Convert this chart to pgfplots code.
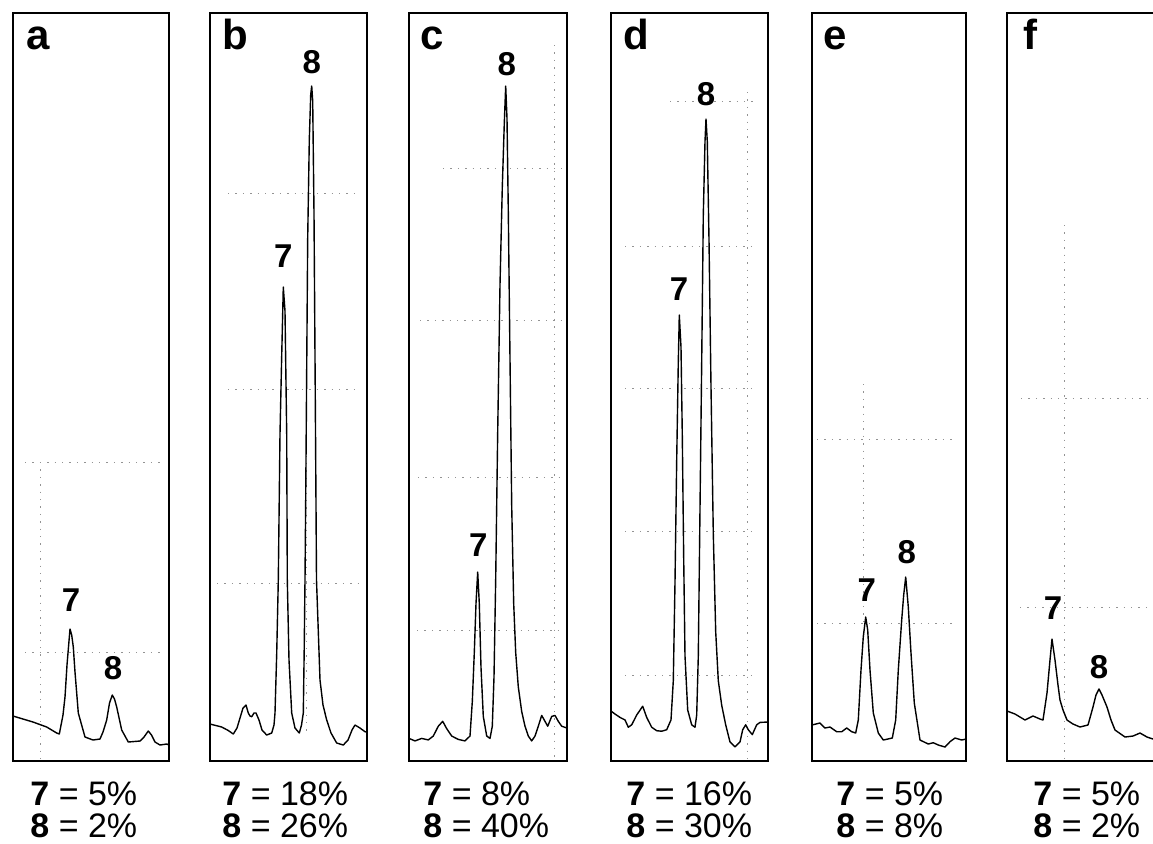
\documentclass[border=0pt]{standalone}
\usepackage{pgfplots}
\pgfplotsset{compat=1.18}
\usepackage{fontspec}
\setmainfont{Liberation Sans}
\pgfplotsset{
  panel/.style={scale only axis, anchor=center, height=374pt,
    xtick=\empty, ytick=\empty, y dir=reverse, ymin=13, ymax=761,
    axis line style={line width=1pt, black}, clip=true},
  trace/.style={black, line width=0.7pt, line join=round, mark=none}
}
\tikzset{
  gridc/.style={gray!85, line width=0.5pt, dash pattern=on 0.7pt off 3pt},
  pk/.style={font=\bfseries\fontsize{16.5}{16.5}\selectfont},
  lt/.style={anchor=base west, inner sep=0pt, font=\bfseries\fontsize{21}{21}\selectfont}
}
\begin{document}
\begin{tikzpicture}
\useasboundingbox (0pt,0pt) rectangle (576.5pt,-421.5pt);
\clip (0pt,0pt) rectangle (576.5pt,-421.5pt);
% ---------- a ----------
\begin{axis}[panel, at={(45.5pt,-193.5pt)}, width=78pt, xmin=13, xmax=169]
\draw[gridc] (axis cs:25,462) -- (axis cs:165,462);
\draw[gridc] (axis cs:25,652) -- (axis cs:163,652);
\draw[gridc] (axis cs:40,462) -- (axis cs:40,760);
\addplot[trace] coordinates {(13,716) (33,722) (46.7,727) (56.7,733) (59.3,734) (63,715) (65,697) (67,665) (70,629) (71.7,635) (73.3,647) (75,672) (78.3,713) (85,737) (93,740) (100,739) (103,732) (106.7,720) (109.5,703) (112.3,695) (114.5,699) (116.7,707) (121.7,730) (128.3,742) (140,741) (144,737) (148.3,731) (151.5,735) (155,742) (160,745) (166.7,744) (169,745)};
\node[pk] at (axis cs:71,600) {7};
\node[pk] at (axis cs:113,668) {8};
\node[lt] at (axis cs:26,49) {a};
\end{axis}
% ---------- b ----------
\begin{axis}[panel, at={(144.25pt,-193.5pt)}, width=78.5pt, xmin=210, xmax=367]
\draw[gridc] (axis cs:228,193) -- (axis cs:358,193);
\draw[gridc] (axis cs:228,389) -- (axis cs:358,389);
\draw[gridc] (axis cs:217,583) -- (axis cs:358,583);
\draw[gridc] (axis cs:306,389) -- (axis cs:306,735);
\addplot[trace] coordinates {(210,724) (221.7,727) (228.3,730.5) (233.3,734) (237,728) (240,718) (243,708) (246,705) (248.3,713) (250,716) (251.7,716.7) (254,713) (256,713) (259,720) (262,730) (266.7,735) (271.7,733) (274,725) (275,713) (276.7,654) (278.3,580) (280,434) (281.7,356) (283.3,287) (285,311) (286.7,434) (287.3,580) (289,660) (291.7,713) (295,728) (299.3,733) (301.5,725) (303.3,713) (304.2,650) (305,580) (305.7,500) (307.7,238) (309.3,140) (310.7,95) (311.7,86) (312.7,101) (314,213) (315.2,385) (316.5,580) (320,680) (323,705) (326.7,720) (331,733) (336.7,743) (343.3,745) (348,740) (352,730) (355,725) (360,728) (365,731.7) (367,732)};
\node[pk] at (axis cs:283.3,256) {7};
\node[pk] at (axis cs:311.7,62) {8};
\node[lt] at (axis cs:222,49) {b};
\end{axis}
% ---------- c ----------
\begin{axis}[panel, at={(244pt,-193.5pt)}, width=79pt, xmin=409, xmax=567]
\draw[gridc] (axis cs:443,168) -- (axis cs:562,168);
\draw[gridc] (axis cs:420,320) -- (axis cs:562,320);
\draw[gridc] (axis cs:418,477) -- (axis cs:562,477);
\draw[gridc] (axis cs:417,630) -- (axis cs:560,630);
\draw[gridc] (axis cs:554,45) -- (axis cs:554,760);
\addplot[trace] coordinates {(409,738.4) (415,740.9) (421.7,738.4) (428.3,739.9) (433.3,736) (438.3,726.2) (442.7,721.3) (446.7,728.6) (451.7,736) (458.3,739.4) (465,740.9) (470,736) (472.3,701.7) (474.3,652.6) (476,603.6) (477.7,572) (479.3,603.6) (481,667.3) (483.3,716.4) (486.7,736) (490,738.4) (492.3,726.2) (494,677.2) (495.7,579.1) (497.7,432) (500,285) (502.3,186.9) (504.3,123.2) (505.7,86) (507,118.3) (508.3,211.4) (510,358.5) (511.7,505.5) (513.7,603.6) (515.7,652.6) (518.3,686.9) (521.7,711.5) (525,726.2) (528.3,736) (531.7,740.9) (535,736) (538.3,726.2) (541.7,715.4) (545,721.3) (547.7,726.2) (551.7,716.4) (555,715.4) (558.3,721.3) (561.7,726.2) (567,728)};
\node[pk] at (axis cs:478.3,545) {7};
\node[pk] at (axis cs:506.7,64) {8};
\node[lt] at (axis cs:420,49) {c};
\end{axis}
% ---------- d ----------
\begin{axis}[panel, at={(344.75pt,-193.5pt)}, width=78.5pt, xmin=611, xmax=768]
\draw[gridc] (axis cs:670,101) -- (axis cs:755,101);
\draw[gridc] (axis cs:625,246) -- (axis cs:755,246);
\draw[gridc] (axis cs:625,388) -- (axis cs:755,388);
\draw[gridc] (axis cs:625,531) -- (axis cs:755,531);
\draw[gridc] (axis cs:625,675) -- (axis cs:755,675);
\draw[gridc] (axis cs:747,92) -- (axis cs:747,759);
\addplot[trace] coordinates {(611,711) (615,714) (620,717.4) (625,719.9) (628.3,727.2) (631.7,724.8) (636.7,715) (642.7,706.2) (646.7,717.4) (651.7,727.2) (656.7,730.7) (661.7,731.2) (666.7,729.7) (671,719.9) (673.3,680.7) (675,582.6) (676.7,460) (678.3,362) (679.3,315) (681,347) (682.3,435.5) (683.7,558) (685,656) (687.7,710) (691.7,724.8) (695,727.2) (696.7,715) (698.3,656) (700,509) (701.7,362) (703.3,215) (705,141.5) (706,119) (707.3,141.5) (709,239.5) (711,386.6) (713.3,533.7) (715.7,631.7) (718.3,680.7) (721.7,705.2) (725.7,724.8) (730,741.9) (735,746.8) (740,741.9) (742.7,729.7) (745.7,724.8) (748.3,729.7) (752.3,734.6) (756.7,724.8) (760,722.4) (768,722)};
\node[pk] at (axis cs:679,289) {7};
\node[pk] at (axis cs:706,94) {8};
\node[lt] at (axis cs:623,49) {d};
\end{axis}
% ---------- e ----------
\begin{axis}[panel, at={(444.5pt,-193.5pt)}, width=77pt, xmin=812, xmax=966]
\draw[gridc] (axis cs:817,439) -- (axis cs:955,439);
\draw[gridc] (axis cs:817,623) -- (axis cs:955,623);
\draw[gridc] (axis cs:863,384) -- (axis cs:863,622);
\addplot[trace] coordinates {(812,725) (820,723) (825,728) (830,727) (836.7,731.7) (841.7,731.7) (846.7,728) (851.7,731.7) (855.7,733) (858.3,720) (861,670) (863.3,636.7) (865.7,617) (867.7,630) (870,670) (873.3,713) (878.3,733) (883.3,740) (892.3,738) (895.7,720) (898.3,670) (901.7,620) (903.7,595) (905.7,577) (908.3,607) (911,653) (914.3,703) (920,740) (928.3,744) (933.3,742.7) (938.3,745) (945,747) (950,741.7) (955,738) (961.7,740) (966,739)};
\node[pk] at (axis cs:866.7,590) {7};
\node[pk] at (axis cs:906.7,552) {8};
\node[lt] at (axis cs:823,49) {e};
\end{axis}
% ---------- f ----------
\begin{axis}[panel, at={(543pt,-193.5pt)}, width=79pt, xmin=1007, xmax=1165]
\draw[gridc] (axis cs:1021,398) -- (axis cs:1160,398);
\draw[gridc] (axis cs:1020,607) -- (axis cs:1160,607);
\draw[gridc] (axis cs:1064,225) -- (axis cs:1064,760);
\addplot[trace] coordinates {(1007,711) (1015,714) (1025,720) (1029,718) (1033,716) (1040,719) (1043,720) (1047,693) (1050,660) (1052,639) (1055,660) (1058,685) (1060,700) (1063,710) (1067,720) (1073,724) (1080,727) (1088,725) (1093,707) (1096,695) (1099,689) (1102,695) (1107,707) (1111,720) (1115,730) (1125,737) (1133,736) (1140,733) (1147,737) (1153,739) (1165,739)};
\node[pk] at (axis cs:1053,608) {7};
\node[pk] at (axis cs:1099,667) {8};
\node[lt] at (axis cs:1023,49) {f};
\end{axis}
% ---------- bottom text ----------
\begin{scope}[every node/.style={anchor=north west, inner sep=0pt, align=left, font=\fontsize{17}{16}\selectfont}]
\node at (15pt,-390.5pt) {\textbf{7} = 5\%\\\textbf{8} = 2\%};
\node at (111pt,-390.5pt) {\textbf{7} = 18\%\\\textbf{8} = 26\%};
\node at (211.5pt,-390.5pt) {\textbf{7} = 8\%\\\textbf{8} = 40\%};
\node at (313pt,-390.5pt) {\textbf{7} = 16\%\\\textbf{8} = 30\%};
\node at (418pt,-390.5pt) {\textbf{7} = 5\%\\\textbf{8} = 8\%};
\node at (516.5pt,-390.5pt) {\textbf{7} = 5\%\\\textbf{8} = 2\%};
\end{scope}
\end{tikzpicture}
\end{document}
